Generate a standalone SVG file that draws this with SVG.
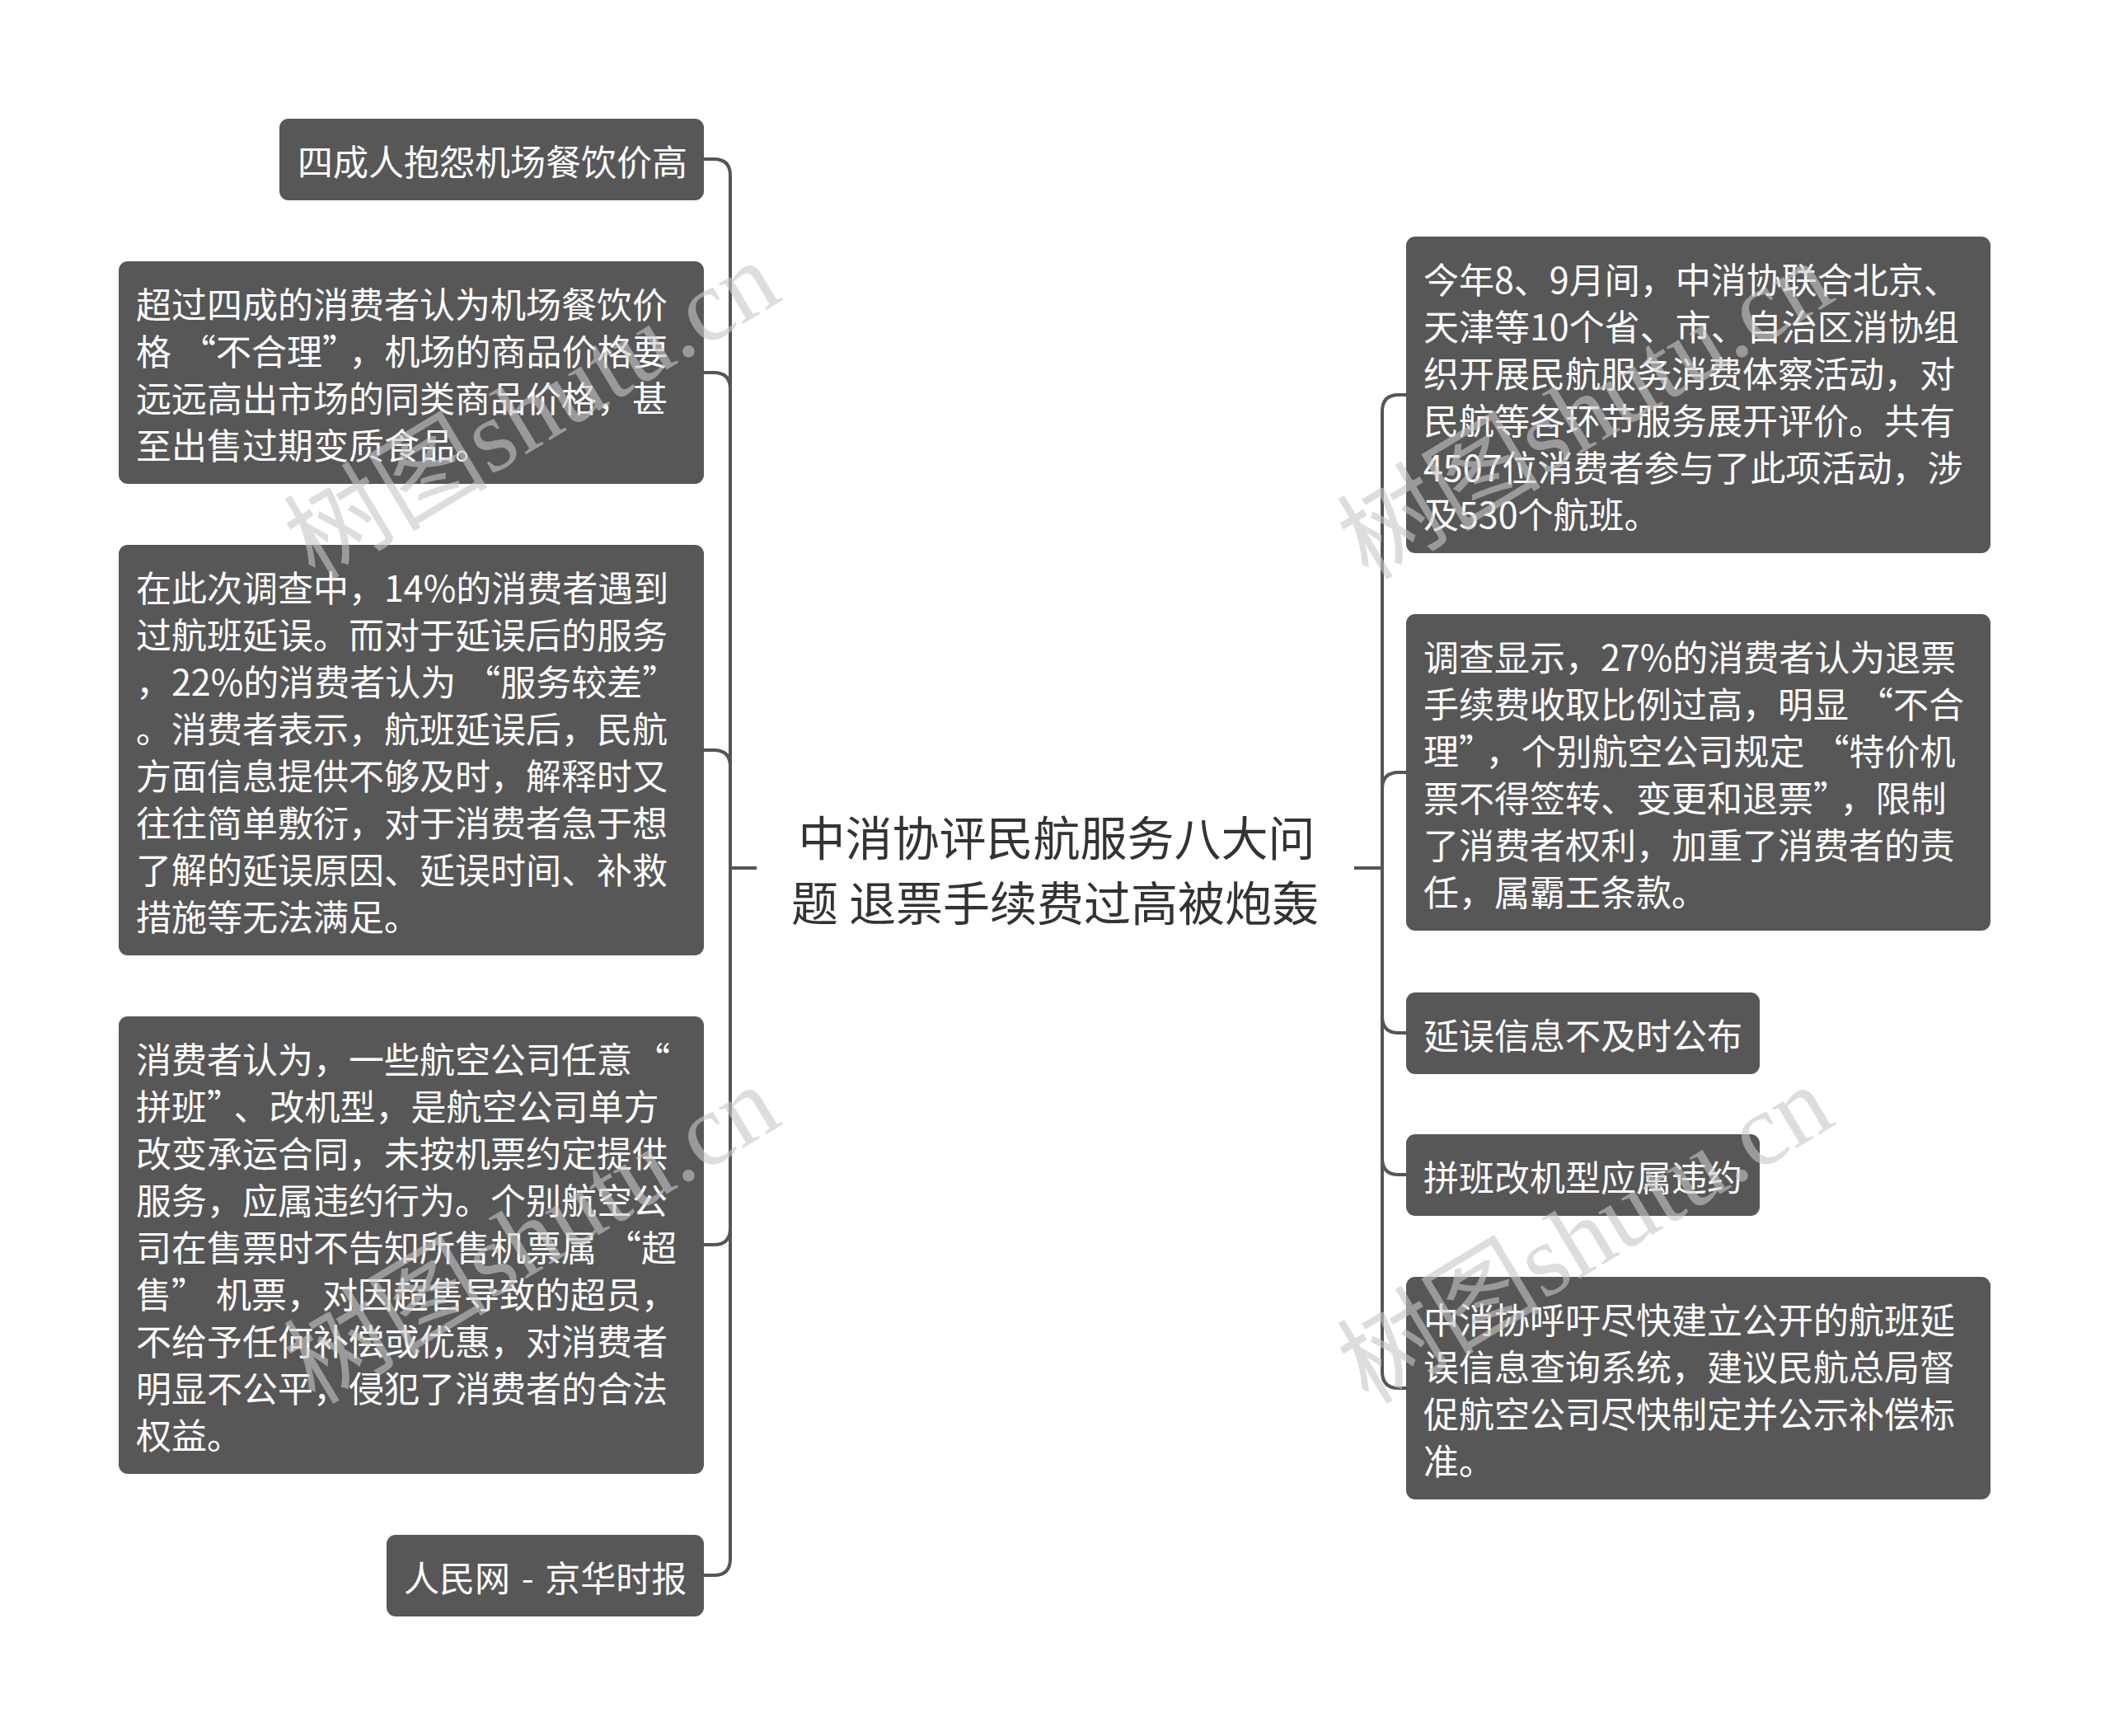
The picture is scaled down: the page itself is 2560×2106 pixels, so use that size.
<svg xmlns="http://www.w3.org/2000/svg" width="2560" height="2106" viewBox="0 0 2560 2106">
<style>
.box{fill:#575757;}
.t{font-family:"Noto Sans CJK SC","Liberation Sans",sans-serif;font-size:43px;fill:#ffffff;dominant-baseline:central;}
.ct{font-family:"Noto Sans CJK SC","Liberation Sans",sans-serif;font-size:57px;fill:#333333;text-anchor:middle;dominant-baseline:central;}
.c{fill:none;stroke:#555555;stroke-width:4;}
.wm{font-family:"Liberation Serif","Noto Sans CJK SC",serif;font-size:124px;fill:#c8c8c8;opacity:0.6;}
</style>
<rect width="2560" height="2106" fill="#ffffff"/>
<g id="connectors">
<path class="c" d="M918 1053H886V213Q886 193 866 193H854"/>
<path class="c" d="M918 1053H886V472Q886 452 866 452H854"/>
<path class="c" d="M918 1053H886V930Q886 910 866 910H854"/>
<path class="c" d="M918 1053H886V1490Q886 1510 866 1510H854"/>
<path class="c" d="M918 1053H886V1891Q886 1911 866 1911H854"/>
<path class="c" d="M1643 1053H1677V499Q1677 479 1697 479H1706"/>
<path class="c" d="M1643 1053H1677V957Q1677 937 1697 937H1706"/>
<path class="c" d="M1643 1053H1677V1233Q1677 1253 1697 1253H1706"/>
<path class="c" d="M1643 1053H1677V1405Q1677 1425 1697 1425H1706"/>
<path class="c" d="M1643 1053H1677V1664Q1677 1684 1697 1684H1706"/>
</g>
<g id="center">
<text class="ct" x="1282" y="1013">中消协评民航服务八大问</text>
<text class="ct" x="1280" y="1092">题 退票手续费过高被炮轰</text>
</g>
<g id="n1">
<rect class="box" x="339" y="144" width="515" height="99" rx="11"/>
<text class="t" x="361" y="193.5">四成人抱怨机场餐饮价高</text>
</g>
<g id="n2">
<rect class="box" x="144" y="317" width="710" height="270" rx="11"/>
<text class="t" x="165" y="366.5">超过四成的消费者认为机场餐饮价</text>
<text class="t" x="165" y="423.5">格<tspan dx="11">“</tspan>不合理”<tspan dx="11">，</tspan>机场的商品价格要</text>
<text class="t" x="165" y="480.5">远远高出市场的同类商品价格，甚</text>
<text class="t" x="165" y="537.5">至出售过期变质食品。</text>
</g>
<g id="n3">
<rect class="box" x="144" y="661" width="710" height="498" rx="11"/>
<text class="t" x="165" y="710.5">在此次调查中，14%的消费者遇到</text>
<text class="t" x="165" y="767.5">过航班延误。而对于延误后的服务</text>
<text class="t" x="165" y="824.5">，22%的消费者认为<tspan dx="11">“</tspan>服务较差”</text>
<text class="t" x="165" y="881.5">。消费者表示，航班延误后，民航</text>
<text class="t" x="165" y="938.5">方面信息提供不够及时，解释时又</text>
<text class="t" x="165" y="995.5">往往简单敷衍，对于消费者急于想</text>
<text class="t" x="165" y="1052.5">了解的延误原因、延误时间、补救</text>
<text class="t" x="165" y="1109.5">措施等无法满足。</text>
</g>
<g id="n4">
<rect class="box" x="144" y="1233" width="710" height="555" rx="11"/>
<text class="t" x="165" y="1282.5">消费者认为，一些航空公司任意<tspan dx="3">“</tspan></text>
<text class="t" x="165" y="1339.5">拼班”<tspan dx="11">、</tspan>改机型，是航空公司单方</text>
<text class="t" x="165" y="1396.5">改变承运合同，未按机票约定提供</text>
<text class="t" x="165" y="1453.5">服务，应属违约行为。个别航空公</text>
<text class="t" x="165" y="1510.5">司在售票时不告知所售机票属<tspan dx="11">“</tspan>超</text>
<text class="t" x="165" y="1567.5">售”<tspan dx="11">机</tspan>票，对因超售导致的超员，</text>
<text class="t" x="165" y="1624.5">不给予任何补偿或优惠，对消费者</text>
<text class="t" x="165" y="1681.5">明显不公平，侵犯了消费者的合法</text>
<text class="t" x="165" y="1738.5">权益。</text>
</g>
<g id="n5">
<rect class="box" x="469" y="1862" width="385" height="99" rx="11"/>
<text class="t" x="490" y="1911.5" style="word-spacing:4px">人民网 - 京华时报</text>
</g>
<g id="n6">
<rect class="box" x="1706" y="287" width="709" height="384" rx="11"/>
<text class="t" x="1727" y="336.5">今年8、9月间，中消协联合北京、</text>
<text class="t" x="1727" y="393.5">天津等10个省、市、自治区消协组</text>
<text class="t" x="1727" y="450.5">织开展民航服务消费体察活动，对</text>
<text class="t" x="1727" y="507.5">民航等各环节服务展开评价。共有</text>
<text class="t" x="1727" y="564.5">4507位消费者参与了此项活动，涉</text>
<text class="t" x="1727" y="621.5">及530个航班。</text>
</g>
<g id="n7">
<rect class="box" x="1706" y="745" width="709" height="384" rx="11"/>
<text class="t" x="1727" y="794.5">调查显示，27%的消费者认为退票</text>
<text class="t" x="1727" y="851.5">手续费收取比例过高，明显<tspan dx="11">“</tspan>不合</text>
<text class="t" x="1727" y="908.5">理”<tspan dx="11">，</tspan>个别航空公司规定<tspan dx="11">“</tspan>特价机</text>
<text class="t" x="1727" y="965.5">票不得签转、变更和退票”<tspan dx="11">，</tspan>限制</text>
<text class="t" x="1727" y="1022.5">了消费者权利，加重了消费者的责</text>
<text class="t" x="1727" y="1079.5">任，属霸王条款。</text>
</g>
<g id="n8">
<rect class="box" x="1706" y="1204" width="429" height="99" rx="11"/>
<text class="t" x="1727" y="1253.5">延误信息不及时公布</text>
</g>
<g id="n9">
<rect class="box" x="1706" y="1376" width="429" height="99" rx="11"/>
<text class="t" x="1727" y="1425.5">拼班改机型应属违约</text>
</g>
<g id="n10">
<rect class="box" x="1706" y="1549" width="709" height="270" rx="11"/>
<text class="t" x="1727" y="1598.5">中消协呼吁尽快建立公开的航班延</text>
<text class="t" x="1727" y="1655.5">误信息查询系统，建议民航总局督</text>
<text class="t" x="1727" y="1712.5">促航空公司尽快制定并公示补偿标</text>
<text class="t" x="1727" y="1769.5">准。</text>
</g>
<g id="watermarks">
<text class="wm" transform="translate(382 705) rotate(-31)">树图shutu.cn</text>
<text class="wm" transform="translate(382 1705) rotate(-31)">树图shutu.cn</text>
<text class="wm" transform="translate(1660 705) rotate(-31)">树图shutu.cn</text>
<text class="wm" transform="translate(1660 1705) rotate(-31)">树图shutu.cn</text>
</g>
</svg>
